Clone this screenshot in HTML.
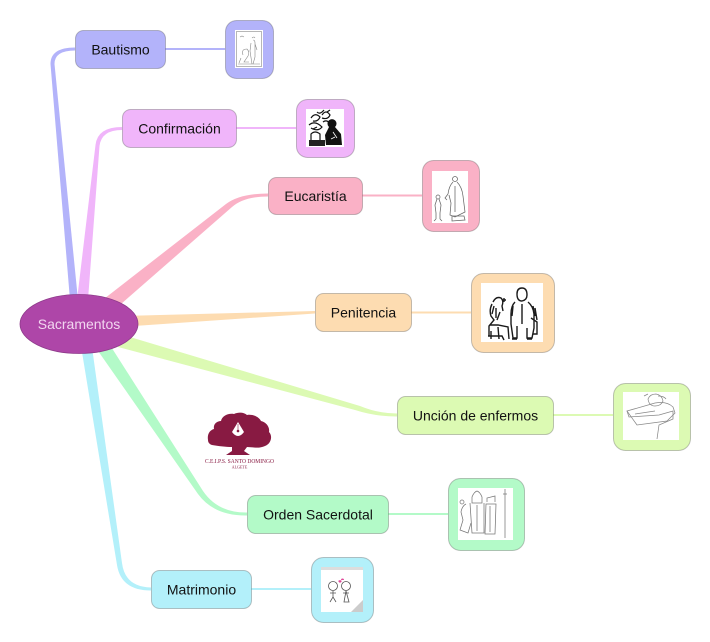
<!DOCTYPE html>
<html>
<head>
<meta charset="utf-8">
<style>
html,body{margin:0;padding:0;background:#fff;}
svg{display:block;}
text{font-family:"Liberation Sans",sans-serif;}
</style>
</head>
<body>
<svg width="710" height="642" viewBox="0 0 710 642" xmlns="http://www.w3.org/2000/svg">
<rect width="710" height="642" fill="#fff"/>

<!-- branches -->
<path d="M70,300 L50.5,64 Q50.5,47.5 75,47.5 L75,50.5 Q54.5,50.5 54.5,64 L78,300 Z" fill="#b3b3fa"/>
<path d="M77,300 L95.5,145 Q97.5,127 122,127 L122,130 Q101.5,130 99.5,146 L88,300 Z" fill="#f0b5fa"/>
<path d="M100,302 L226,204 Q240,193.5 268,193.5 L268,196.5 Q244,196.5 232,207 L113,311 Z" fill="#fab1c6"/>
<path d="M120,316 L315,311 L315,313.5 L120,327 Z" fill="#fddcb1"/>
<path d="M120,334 L360,406 Q378,413.5 397,413.5 L397,416.5 Q375,416.5 355,410 L118,347 Z" fill="#dcfab3"/>
<path d="M108,342 L203,491 Q218,513 247,512.5 L247,515.5 Q214,516 198,494 L96,348 Z" fill="#b3fac8"/>
<path d="M80,340 L117,565 Q121,590.5 151,590.5 L151,587.5 Q125,587 122,563 L91,340 Z" fill="#b3f0fa"/>

<!-- node to image connectors -->
<line x1="165" y1="49" x2="225" y2="49" stroke="#b3b3fa" stroke-width="2"/>
<line x1="236" y1="128" x2="296" y2="128" stroke="#f0b5fa" stroke-width="2"/>
<line x1="362" y1="195.5" x2="422" y2="195.5" stroke="#fab1c6" stroke-width="2"/>
<line x1="411" y1="312.5" x2="471" y2="312.5" stroke="#fddcb1" stroke-width="2"/>
<line x1="553" y1="415" x2="613" y2="415" stroke="#dcfab3" stroke-width="2"/>
<line x1="388" y1="514" x2="448" y2="514" stroke="#b3fac8" stroke-width="2"/>
<line x1="251" y1="589" x2="311" y2="589" stroke="#b3f0fa" stroke-width="2"/>

<!-- central ellipse -->
<ellipse cx="79" cy="324" rx="59" ry="29.5" fill="#ae46a8" stroke="#8e3a8a" stroke-width="0.8"/>
<text x="79" y="329" font-size="14" fill="#f2d6f0" text-anchor="middle">Sacramentos</text>

<!-- nodes -->
<g stroke="rgba(60,60,60,0.3)" stroke-width="1">
<rect x="75.5" y="30.5" width="90" height="38" rx="8" fill="#b3b3fa"/>
<rect x="122.5" y="109.5" width="114" height="38" rx="8" fill="#f0b5fa"/>
<rect x="268.5" y="177.5" width="94" height="37" rx="8" fill="#fab1c6"/>
<rect x="315.5" y="293.5" width="96" height="38" rx="8" fill="#fddcb1"/>
<rect x="397.5" y="396.5" width="156" height="38" rx="8" fill="#dcfab3"/>
<rect x="247.5" y="495.5" width="141" height="38" rx="8" fill="#b3fac8"/>
<rect x="151.5" y="570.5" width="100" height="38" rx="8" fill="#b3f0fa"/>
</g>
<g font-size="14" fill="#111" text-anchor="middle">
<text x="120.5" y="54.5">Bautismo</text>
<text x="179.5" y="133.5">Confirmación</text>
<text x="315.5" y="201">Eucaristía</text>
<text x="363.5" y="317.5">Penitencia</text>
<text x="475.5" y="420.5">Unción de enfermos</text>
<text x="318" y="519.5">Orden Sacerdotal</text>
<text x="201.5" y="594.5">Matrimonio</text>
</g>

<!-- image boxes -->
<g stroke="rgba(60,60,60,0.3)" stroke-width="1">
<rect x="225.5" y="20.5" width="48" height="58" rx="11" fill="#b3b3fa"/>
<rect x="296.5" y="99.5" width="58" height="58" rx="11" fill="#f0b5fa"/>
<rect x="422.5" y="160.5" width="57" height="71" rx="11" fill="#fab1c6"/>
<rect x="471.5" y="273.5" width="83" height="79" rx="12" fill="#fddcb1"/>
<rect x="613.5" y="383.5" width="77" height="67" rx="12" fill="#dcfab3"/>
<rect x="448.5" y="478.5" width="76" height="72" rx="12" fill="#b3fac8"/>
<rect x="311.5" y="557.5" width="62" height="65" rx="12" fill="#b3f0fa"/>
</g>
<g fill="#fff">
<rect x="235" y="30" width="28" height="38"/>
<rect x="306" y="109" width="38" height="38"/>
<rect x="432" y="171" width="36" height="52"/>
<rect x="481" y="283" width="62" height="59"/>
<rect x="623" y="392" width="56" height="48"/>
<rect x="458" y="488" width="55" height="52"/>
<rect x="321" y="567" width="42" height="45"/>
</g>

<!-- Bautismo sketch -->
<g fill="none" stroke="#888" stroke-width="0.6">
<rect x="236.5" y="31.5" width="25" height="35"/>
<path d="M240,37 l2,-1 l2,1 M252,38 q2,-2 3,0"/>
<path d="M253,40 q2,0 2,3 l0,14 l-2,7 M251,43 l-1,8 l2,13 M255,44 l2,6"/>
<path d="M243,55 q-2,-6 4,-6 q3,3 1,7 l-4,6 l5,0 M241,58 l-2,5"/>
<path d="M238,64 l22,0"/>
</g>

<!-- Confirmacion sketch -->
<g fill="none" stroke="#111" stroke-width="1.2">
<path d="M311,118 q4,-6 9,-1 q-2,5 -7,4 M317,112 q3,3 7,-2 M322,115 q4,-6 8,0 q-2,5 -8,3 M327,112 l3,-2"/>
<path d="M309,125 q6,-5 13,2 q-4,5 -11,1 M323,122 q4,-3 7,2 M313,129 l4,-2"/>
<path d="M311,134 q4,-4 9,0 l0,7 l-9,0 z"/>
</g>
<path d="M329,127 a4.5,4.5 0 1 1 6,0 l6,7 l1,11 l-16,0 l-1,-10 z" fill="#111"/>
<path d="M333,132 l4,6 M335,137 l-4,2" stroke="#fff" stroke-width="0.8"/>
<rect x="309" y="140" width="16" height="6" fill="#222"/>

<!-- Eucaristia sketch -->
<g fill="none" stroke="#666" stroke-width="0.75">
<circle cx="438" cy="197" r="2"/>
<path d="M437,199 l-2,6 l1,8 l0,6 M439,199 l2,6 l-1,8 l0,6 M436,219 l-2,2 M440,219 l2,2"/>
<circle cx="455" cy="179" r="2.5"/>
<path d="M453,182 q-4,4 -5,12 M457,182 q5,5 6,14 l2,16 l-10,5 l-5,-2 l1,-12 l-2,-8 M448,194 l-3,4 l2,2 M455,186 l0,26"/>
<path d="M452,216 l12,0 l1,4 l-13,1 z"/>
</g>

<!-- Penitencia sketch -->
<g fill="none" stroke="#1a1a1a" stroke-width="1.4">
<path d="M493,302 q3,-6 8,-4 q3,3 1,8 l1,5 M492,304 q-3,6 -1,12 l3,4 l-5,6 l0,10 M490,325 l8,0 l10,2 l1,12 M491,331 l0,8 M498,327 l1,12"/>
<path d="M494,306 l-2,8 M496,308 l0,10 M500,312 l-3,8"/>
<path d="M502,300 l4,0 M504,298 l0,4"/>
<path d="M517,294 q0,-6 5,-6 q5,0 5,7 q0,5 -5,6 q-5,0 -5,-7 M515,302 q-4,4 -4,12 l0,10 l2,14 l4,0 l0,-12 M528,302 q5,4 6,12 l0,14 l-2,10 l-5,0 l0,-10 M522,304 l0,20 M531,318 l6,4 l0,12 l-4,0"/>
<path d="M533,306 l2,10 M535,308 l2,12 M513,306 l-1,10"/>
<path d="M488,336 l14,0 l2,4 M512,339 l5,0 M527,339 l5,0"/>
</g>

<!-- Uncion sketch -->
<g fill="none" stroke="#888" stroke-width="0.75">
<path d="M627,411 l28,-8 q12,-2 18,4 l2,6 l-8,8 l-30,4 z"/>
<path d="M627,411 l2,6 l30,-2 l14,-4 l0,8 l-14,6 l-2,14 M648,399 q2,-5 8,-5 q6,1 7,7 q-2,5 -8,5 q-6,0 -7,-7"/>
<path d="M644,396 l4,-2 M658,396 q6,0 8,3 M635,414 l20,-3"/>
</g>

<!-- Orden sketch -->
<g fill="none" stroke="#777" stroke-width="0.75">
<path d="M472,497 q2,-5 5,-6 q3,1 5,6 l0,6 l-10,0 z M470,503 l2,30 l12,0 l0,-30"/>
<path d="M466,504 q-4,2 -5,8 l2,8 l-3,10 l8,3 l3,-10"/>
<path d="M487,502 l0,-4 l8,-2 l0,6 M486,504 l-1,30 l10,0 l1,-30 z"/>
<path d="M505,498 l0,-5 l0,-4 M503,494 l4,0 M505,498 l0,40 M477,505 l0,26 M490,506 l0,26"/>
<circle cx="462" cy="502" r="2"/>
</g>

<!-- Matrimonio sketch -->
<rect x="321" y="567" width="42" height="3" fill="#ddd"/>
<path d="M363,600 l0,12 l-12,0 z" fill="#ccc"/>
<g fill="none" stroke="#555" stroke-width="0.8">
<circle cx="333" cy="586" r="4.5"/>
<circle cx="346" cy="586" r="4.5"/>
<path d="M333,591 l0,6 l-3,5 M333,597 l3,5 M330,593 l6,0 M346,591 l-2,11 l5,0 z M343,593 l6,0"/>
</g>
<path d="M338,581 l2,2 l2,-2 l-2,-1 z M341,580 a1.5,1.5 0 1 1 3,0" fill="#e04a9a"/>

<!-- logo -->
<path d="M208,440 C207,434 210,430 214,429 C213,424 217,421 221,421 C222,416 228,413 234,414 C238,412 244,412 247,415 C253,414 259,417 261,421 C266,422 270,427 269,432 C273,436 271,444 265,446 C259,449 252,447 247,447 L244,451 L250,455 L226,455 L232,451 L232,447 C226,447 218,446 212,445 C209,444 208,442 208,440 Z" fill="#881a42"/>
<path d="M238,422 L232,432 Q238,440 244,432 Z" fill="#fff"/>
<circle cx="238" cy="431" r="1.3" fill="#881a42"/>
<line x1="238" y1="424" x2="238" y2="430" stroke="#881a42" stroke-width="0.6"/>
<text x="205" y="463" font-size="6.5" fill="#881a42" textLength="69" lengthAdjust="spacingAndGlyphs" style="font-family:'Liberation Serif',serif">C.E.I.P.S. SANTO DOMINGO</text>
<text x="239.5" y="468.5" font-size="4" fill="#881a42" text-anchor="middle" style="font-family:'Liberation Serif',serif">ALGETE</text>
</svg>
</body>
</html>
